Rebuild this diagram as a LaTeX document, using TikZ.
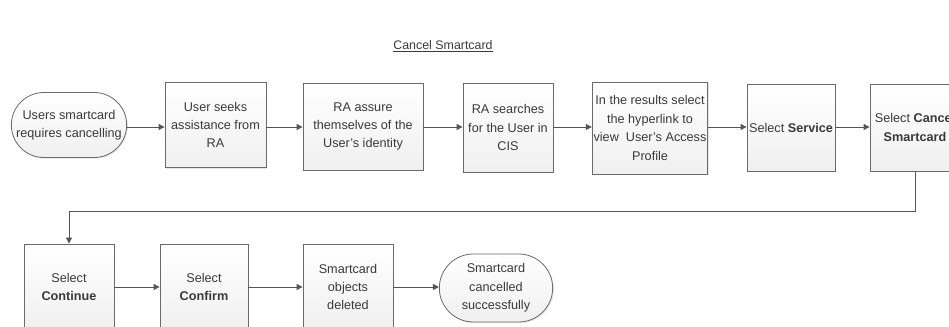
\documentclass[tikz,border=0pt]{standalone}
\usepackage{fontspec}
\setmainfont{Liberation Sans}
\usetikzlibrary{shapes.misc,arrows.meta,shadows}
\definecolor{txt}{HTML}{3A3A3A}
\definecolor{edge}{HTML}{6A6A6A}
\definecolor{conn}{HTML}{555555}
\tikzset{
  base/.style={draw=edge, line width=0.6pt, top color=white, bottom color=black!6,
    text=txt, align=center, font=\fontsize{9.5}{13.8}\selectfont, inner sep=1pt,
    drop shadow={opacity=0.2, shadow xshift=0.9pt, shadow yshift=-0.9pt}},
  procbox/.style={base, rectangle},
  termbox/.style={base, rounded rectangle},
  flow/.style={draw=conn, line width=0.7pt, -{Triangle[width=4.5pt,length=4.5pt]}}
}
\begin{document}
\begin{tikzpicture}[x=0.75pt,y=-0.75pt]
\useasboundingbox (0,0) rectangle (949,327);
\node[text=txt, font=\fontsize{9.3}{12}\selectfont] (title) at (443,46) {\underline{Cancel Smartcard}};
% row 1
\node[termbox, minimum width=88.5pt, minimum height=48.75pt] (start) at (69,125) {Users smartcard\\requires cancelling};
\node[procbox, minimum width=75.75pt, minimum height=63.75pt] (b2) at (215.5,125) {User seeks\\assistance from\\RA};
\node[procbox, minimum width=90pt, minimum height=65.25pt] (b3) at (363,126.5) {RA assure\\themselves of the\\User's identity};
\node[procbox, minimum width=67.5pt, minimum height=66.75pt] (b4) at (508,127.5) {RA searches\\for the User in\\CIS};
\node[procbox, minimum width=85.5pt, minimum height=69pt] (b5) at (650,128) {In the results select\\the hyperlink to\\view\ \ User's Access\\Profile};
\node[procbox, minimum width=66pt, minimum height=65.25pt] (b6) at (791,127.5) {Select \textbf{Service}};
\node[procbox, minimum width=67.5pt, minimum height=65.25pt] (b7) at (915,127.5) {Select \textbf{Cancel}\\\textbf{Smartcard}};
% row 2
\node[procbox, minimum width=67.5pt, minimum height=64.5pt] (b8) at (69,287) {Select\\\textbf{Continue}};
\node[procbox, minimum width=66pt, minimum height=64.5pt] (b9) at (204,287) {Select\\\textbf{Confirm}};
\node[procbox, minimum width=67.5pt, minimum height=64.5pt] (b10) at (348,287) {Smartcard\\objects\\deleted};
\node[termbox, minimum width=87pt, minimum height=51pt] (end) at (496,288) {Smartcard\\cancelled\\successfully};
\coordinate (lr) at (915,211);
\coordinate (ll) at (69,211);
% connectors
\draw[flow] (start.east |- 0,127) -- (b2.west |- 0,127);
\draw[flow] (b2.east |- 0,127) -- (b3.west |- 0,127);
\draw[flow] (b3.east |- 0,127) -- (b4.west |- 0,127);
\draw[flow] (b4.east |- 0,127) -- (b5.west |- 0,127);
\draw[flow] (b5.east |- 0,127) -- (b6.west |- 0,127);
\draw[flow] (b6.east |- 0,127) -- (b7.west |- 0,127);
\draw[flow] (b7.south) -- (lr) -- (ll) -- (b8.north);
\draw[flow] (b8.east |- 0,287) -- (b9.west |- 0,287);
\draw[flow] (b9.east |- 0,287) -- (b10.west |- 0,287);
\draw[flow] (b10.east |- 0,287) -- (end.west |- 0,287);
\end{tikzpicture}
\end{document}
